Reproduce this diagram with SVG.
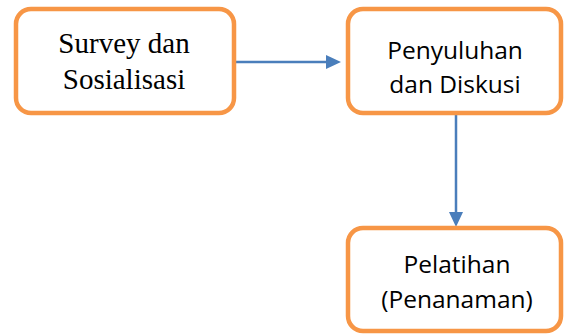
<svg xmlns="http://www.w3.org/2000/svg" width="565" height="334" viewBox="0 0 565 334">
<defs>
<style>
.box{fill:#ffffff;stroke:#F79646;stroke-width:4.5}
.serif{font-family:"Liberation Serif","Times New Roman",serif;font-size:29px;fill:#000;text-anchor:middle}
.sans{font-family:"Open Sans","Noto Sans",sans-serif;font-size:24.5px;fill:#000;text-anchor:middle}
.conn{stroke:#4A7EBB;stroke-width:2.5;fill:none}
.head{fill:#4A7EBB}
</style>
</defs>
<rect width="565" height="334" fill="#ffffff"/>
<g id="connectors">
<line class="conn" x1="236" y1="62" x2="328" y2="62"/>
<polygon class="head" points="326,55 341,62 326,69"/>
<line class="conn" x1="456" y1="115" x2="456" y2="214"/>
<polygon class="head" points="449,212 456,227 463,212"/>
</g>
<g id="node-survey">
<rect class="box" x="16" y="9" width="218" height="104" rx="15"/>
<text class="serif" x="124" y="53">Survey dan</text>
<text class="serif" x="124" y="89">Sosialisasi</text>
</g>
<g id="node-penyuluhan">
<rect class="box" x="348" y="9" width="213" height="104" rx="15"/>
<text class="sans" x="455" y="59">Penyuluhan</text>
<text class="sans" x="455" y="93">dan Diskusi</text>
</g>
<g id="node-pelatihan">
<rect class="box" x="348" y="228" width="213" height="103" rx="15"/>
<text class="sans" x="457" y="273">Pelatihan</text>
<text class="sans" x="457" y="308">(Penanaman)</text>
</g>
</svg>
